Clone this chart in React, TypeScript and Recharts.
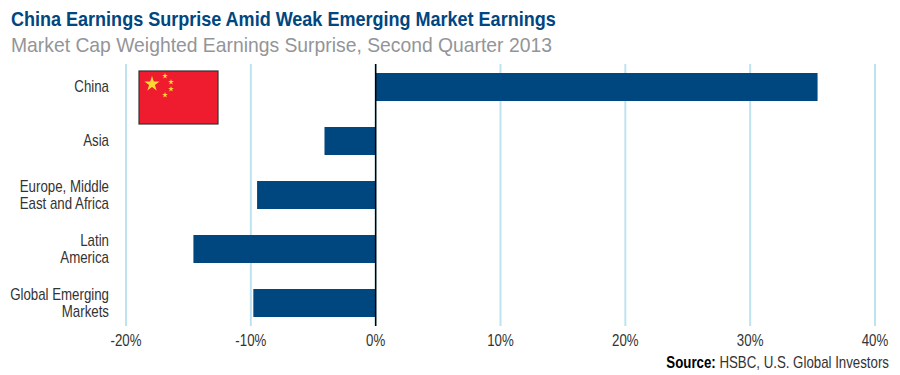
import { Bar, BarChart, CartesianGrid, ReferenceLine, XAxis, YAxis } from "recharts";

const categories = [
  ["China"],
  ["Asia"],
  ["Europe, Middle", "East and Africa"],
  ["Latin", "America"],
  ["Global Emerging", "Markets"],
];
const surprise = [35.4, -4.1, -9.5, -14.6, -9.8];
const xTicks = [-20, -10, 0, 10, 20, 30, 40];

const data = categories.map((lines, i) => ({
  name: lines.join(" "),
  value: surprise[i],
}));

const FONT = '"Liberation Sans", sans-serif';
const NAVY = "#00467f";
const GRID = "#bfe3ee";
const TEXT = "#333333";
const SQUEEZE = 0.83; // no condensed face installed, so narrow the text by hand

const squeezeAt = (x: number) => `translate(${x} 0) scale(${SQUEEZE} 1) translate(${-x} 0)`;

const CategoryTick = ({ x, y, index }: any) => {
  const lines = categories[index];
  const lineHeight = 17;
  const startY = y - ((lines.length - 1) * lineHeight) / 2;
  return (
    <text
      x={x}
      y={startY}
      transform={squeezeAt(x)}
      textAnchor="end"
      dominantBaseline="central"
      fontFamily={FONT}
      fontSize={16}
      fill={TEXT}
    >
      {lines.map((line, i) => (
        <tspan key={line} x={x} y={startY + i * lineHeight}>
          {line}
        </tspan>
      ))}
    </text>
  );
};

const PercentTick = ({ x, y, payload }: any) => (
  <text x={x} y={y} dy={16} transform={squeezeAt(x)} textAnchor="middle" fontFamily={FONT} fontSize={16} fill={TEXT}>
    {`${payload.value}%`}
  </text>
);

// grid and zero line stop a little short of the band edges
const GridLine = ({ x1, x2, y1, y2 }: any) => (
  <line x1={x1} x2={x2} y1={Math.min(y1, y2) + 4} y2={Math.max(y1, y2) - 4} stroke={GRID} strokeWidth={2} />
);

const ZeroLine = ({ x1, x2, y1, y2 }: any) => (
  <line x1={x1} x2={x2} y1={Math.min(y1, y2) + 4} y2={Math.max(y1, y2) - 4} stroke="#000000" strokeWidth={1.5} />
);

const Flag = () => {
  const star = (cx: number, cy: number, r: number) => {
    const pts: string[] = [];
    for (let i = 0; i < 10; i++) {
      const rad = i % 2 === 0 ? r : r * 0.38;
      const a = -Math.PI / 2 + (i * Math.PI) / 5;
      pts.push(`${cx + rad * Math.cos(a)},${cy + rad * Math.sin(a)}`);
    }
    return <polygon key={`${cx}-${cy}`} points={pts.join(" ")} fill="#fdd835" />;
  };
  return (
    <g>
      <rect x={139} y={71} width={79} height={53} fill="#ee1c2e" stroke="#333333" strokeWidth={1.2} />
      {star(152, 84, 8)}
      {star(165, 76, 3)}
      {star(171, 82, 3)}
      {star(171, 89, 3)}
      {star(165, 95, 3)}
    </g>
  );
};

export default function App() {
  return (
    <div style={{ position: "absolute", left: 0, top: 0, width: 900, height: 375, background: "#fff", overflow: "hidden" }}>
      <div
        style={{
          position: "absolute",
          left: 11,
          top: 7,
          fontFamily: FONT,
          fontWeight: 700,
          fontSize: 21,
          color: NAVY,
          whiteSpace: "nowrap",
          transform: "scaleX(0.858)",
          transformOrigin: "left",
        }}
      >
        China Earnings Surprise Amid Weak Emerging Market Earnings
      </div>
      <div
        style={{
          position: "absolute",
          left: 11,
          top: 33,
          fontFamily: FONT,
          fontSize: 21,
          color: "#939598",
          whiteSpace: "nowrap",
          transform: "scaleX(0.92)",
          transformOrigin: "left",
        }}
      >
        Market Cap Weighted Earnings Surprise, Second Quarter 2013
      </div>
      <BarChart
        width={900}
        height={375}
        data={data}
        layout="vertical"
        margin={{ top: 60, right: 25, bottom: 21, left: 0 }}
        barCategoryGap={13}
      >
        <CartesianGrid horizontal={false} vertical={GridLine} verticalValues={xTicks} />
        <XAxis
          type="number"
          domain={[-20, 40]}
          ticks={xTicks}
          axisLine={false}
          tickLine={false}
          tickSize={0}
          tickMargin={0}
          height={24}
          interval={0}
          tick={PercentTick}
        />
        <YAxis
          type="category"
          dataKey="name"
          width={126}
          axisLine={false}
          tickLine={false}
          tickSize={0}
          tickMargin={17}
          interval={0}
          tick={CategoryTick}
        />
        <Bar dataKey="value" fill={NAVY} isAnimationActive={false} />
        <ReferenceLine x={0} shape={ZeroLine} />
        <Flag />
        <text x={889} y={368} transform={squeezeAt(889)} textAnchor="end" fontFamily={FONT} fontSize={16} fill={TEXT}>
          <tspan fontWeight={700} fill="#000000">Source:</tspan> HSBC, U.S. Global Investors
        </text>
      </BarChart>
    </div>
  );
}
